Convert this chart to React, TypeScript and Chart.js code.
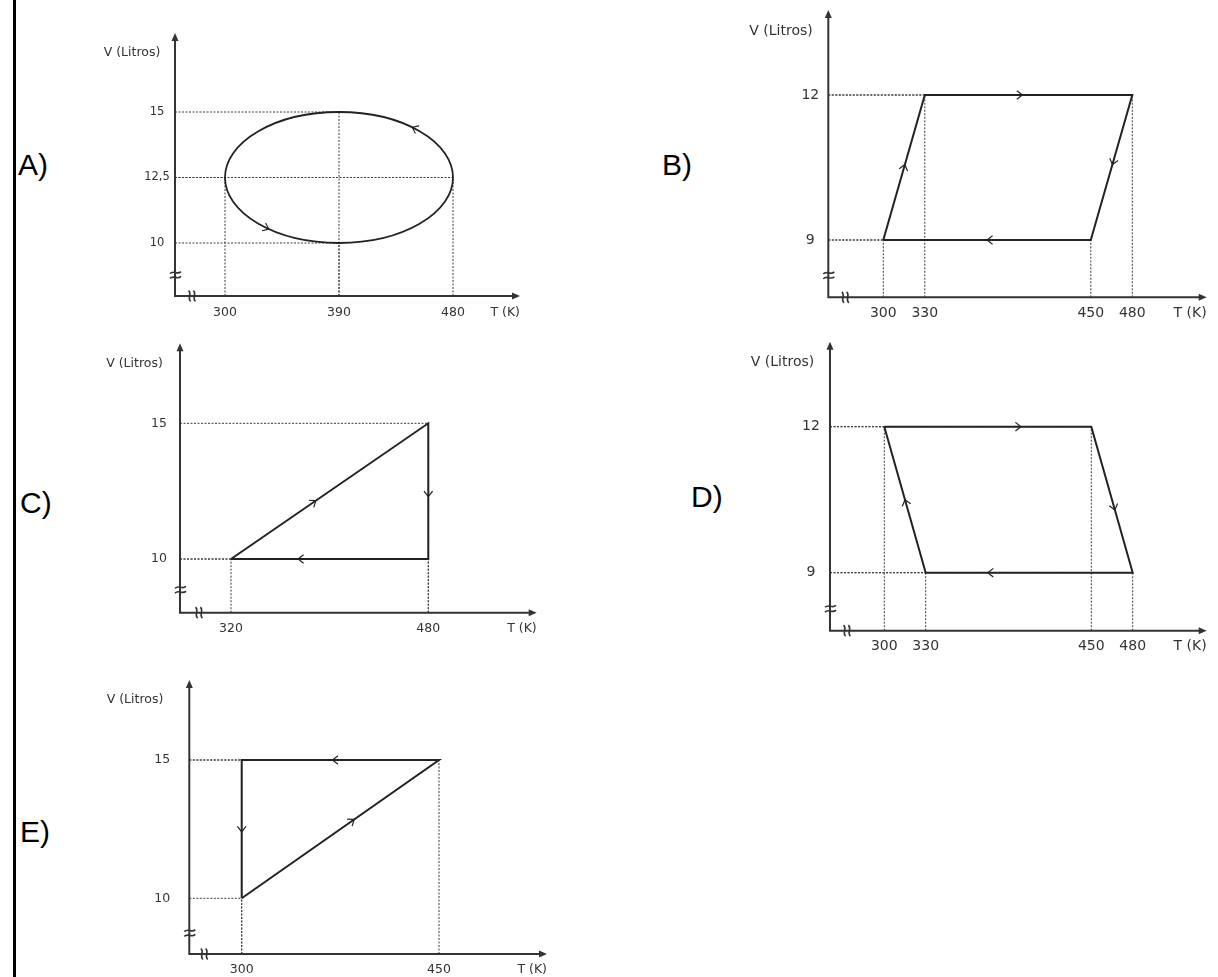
import React, { useEffect, useRef } from 'react';
import { Chart, registerables } from 'chart.js';

Chart.register(...registerables);

// ---------------- DATA ----------------
const PANEL_LETTERS = ['A)', 'B)', 'C)', 'D)', 'E)'];
const X_TITLE = 'T (K)';
const Y_TITLE = 'V (Litros)';

// A) elliptical cycle
const A_T_TICKS = [300, 390, 480];
const A_T_LABELS = ['300', '390', '480'];
const A_V_TICKS = [10, 12.5, 15];
const A_V_LABELS = ['10', '12,5', '15'];
const A_ELLIPSE_T = [300, 390, 480]; // min, centre, max
const A_ELLIPSE_V = [10, 12.5, 15]; // min, centre, max
const A_GUIDE_T = [300, 390, 480, 390];
const A_GUIDE_V = [12.5, 15, 12.5, 10];
const A_ARROW_ANGLES = [50, 232]; // degrees along the ellipse

// B)
const B_CYCLE_T = [300, 330, 480, 450, 300];
const B_CYCLE_V = [9, 12, 12, 9, 9];
const B_T_TICKS = [300, 330, 450, 480];
const B_T_LABELS = ['300', '330', '450', '480'];
const B_V_TICKS = [9, 12];
const B_V_LABELS = ['9', '12'];
const B_ARROWS = [0.52, 0.47, 0.48, 0.5];

// C)
const C_CYCLE_T = [320, 480, 480, 320];
const C_CYCLE_V = [10, 15, 10, 10];
const C_T_TICKS = [320, 480];
const C_T_LABELS = ['320', '480'];
const C_V_TICKS = [10, 15];
const C_V_LABELS = ['10', '15'];
const C_ARROWS = [0.43, 0.54, 0.66];

// D)
const D_CYCLE_T = [300, 450, 480, 330, 300];
const D_CYCLE_V = [12, 12, 9, 9, 12];
const D_T_TICKS = [300, 330, 450, 480];
const D_T_LABELS = ['300', '330', '450', '480'];
const D_V_TICKS = [9, 12];
const D_V_LABELS = ['9', '12'];
const D_ARROWS = [0.66, 0.57, 0.7, 0.5];

// E)
const E_CYCLE_T = [300, 450, 300, 300];
const E_CYCLE_V = [10, 15, 15, 10];
const E_T_TICKS = [300, 450];
const E_T_LABELS = ['300', '450'];
const E_V_TICKS = [10, 15];
const E_V_LABELS = ['10', '15'];
const E_ARROWS = [0.57, 0.54, 0.52];

// ---------------- LAYOUT ----------------
type Spec = {
  box: number[];
  axisX: number; axisY: number; xTip: number; yTip: number;
  xRef: number[]; yRef: number[];
  tTicks: number[]; tLabels: string[]; vTicks: number[]; vLabels: string[];
  cycleT?: number[]; cycleV?: number[]; arrows?: number[];
  ellipseT?: number[]; ellipseV?: number[]; ellipseArrows?: number[];
  guideT: number[]; guideV: number[];
  tickFont: number; vTickFont: number; titleFont: number;
  vLabelDx: number; xLabelDy: number;
  title: number[];
  breakDy: number; breakDx: number;
};

const uniq = (T: number[], V: number[]) => {
  const t: number[] = [], v: number[] = [];
  T.forEach((x, i) => {
    if (!t.some((tt, j) => tt === x && v[j] === V[i])) { t.push(x); v.push(V[i]); }
  });
  return [t, v];
};

const [B_GT, B_GV] = uniq(B_CYCLE_T, B_CYCLE_V);
const [C_GT, C_GV] = uniq(C_CYCLE_T, C_CYCLE_V);
const [D_GT, D_GV] = uniq(D_CYCLE_T, D_CYCLE_V);
const [E_GT, E_GV] = uniq(E_CYCLE_T, E_CYCLE_V);

const SPECS: Spec[] = [
  {
    box: [90, 0, 450, 330], axisX: 175, axisY: 296, xTip: 520, yTip: 33,
    xRef: [300, 225, 480, 453], yRef: [15, 112, 10, 243],
    tTicks: A_T_TICKS, tLabels: A_T_LABELS, vTicks: A_V_TICKS, vLabels: A_V_LABELS,
    ellipseT: A_ELLIPSE_T, ellipseV: A_ELLIPSE_V, ellipseArrows: A_ARROW_ANGLES,
    guideT: A_GUIDE_T, guideV: A_GUIDE_V,
    tickFont: 12.5, vTickFont: 11.5, titleFont: 12.5, vLabelDx: 18, xLabelDy: 17,
    title: [132, 53], breakDy: 21, breakDx: 17,
  },
  {
    box: [740, 0, 478, 330], axisX: 828.3, axisY: 297.3, xTip: 1206.7, yTip: 10,
    xRef: [300, 883.3, 480, 1132.3], yRef: [12, 95, 9, 240],
    tTicks: B_T_TICKS, tLabels: B_T_LABELS, vTicks: B_V_TICKS, vLabels: B_V_LABELS,
    cycleT: B_CYCLE_T, cycleV: B_CYCLE_V, arrows: B_ARROWS,
    guideT: B_GT, guideV: B_GV,
    tickFont: 14, vTickFont: 14, titleFont: 14, vLabelDx: 18, xLabelDy: 16,
    title: [781, 31], breakDy: 22, breakDx: 17,
  },
  {
    box: [90, 330, 460, 330], axisX: 180, axisY: 612.7, xTip: 536.7, yTip: 343.3,
    xRef: [320, 231, 480, 428.3], yRef: [15, 423.3, 10, 559],
    tTicks: C_T_TICKS, tLabels: C_T_LABELS, vTicks: C_V_TICKS, vLabels: C_V_LABELS,
    cycleT: C_CYCLE_T, cycleV: C_CYCLE_V, arrows: C_ARROWS,
    guideT: C_GT, guideV: C_GV,
    tickFont: 12.5, vTickFont: 12.5, titleFont: 12.5, vLabelDx: 21, xLabelDy: 16,
    title: [134.5, 363.3], breakDy: 23, breakDx: 19,
  },
  {
    box: [740, 330, 478, 330], axisX: 830, axisY: 630.7, xTip: 1206.7, yTip: 341.7,
    xRef: [300, 884.3, 480, 1132.7], yRef: [12, 426.7, 9, 572.7],
    tTicks: D_T_TICKS, tLabels: D_T_LABELS, vTicks: D_V_TICKS, vLabels: D_V_LABELS,
    cycleT: D_CYCLE_T, cycleV: D_CYCLE_V, arrows: D_ARROWS,
    guideT: D_GT, guideV: D_GV,
    tickFont: 14, vTickFont: 14, titleFont: 14, vLabelDx: 19, xLabelDy: 16,
    title: [782.5, 362.3], breakDy: 22, breakDx: 17,
  },
  {
    box: [90, 660, 470, 317], axisX: 189.3, axisY: 954, xTip: 547, yTip: 680,
    xRef: [300, 241.7, 450, 439], yRef: [15, 760, 10, 898.3],
    tTicks: E_T_TICKS, tLabels: E_T_LABELS, vTicks: E_V_TICKS, vLabels: E_V_LABELS,
    cycleT: E_CYCLE_T, cycleV: E_CYCLE_V, arrows: E_ARROWS,
    guideT: E_GT, guideV: E_GV,
    tickFont: 12.5, vTickFont: 12.5, titleFont: 12.5, vLabelDx: 27, xLabelDy: 16,
    title: [135, 700], breakDy: 21, breakDx: 15,
  },
];

const LETTER_POS = [[18, 165], [662, 165], [20, 503], [691, 497], [20, 832]];

const FONT = '"DejaVu Sans", Verdana, sans-serif';
const AXIS_COLOR = '#333';
const LINE_COLOR = '#222';
const TEXT_COLOR = '#333';

function chevron(ctx: CanvasRenderingContext2D, x: number, y: number, dx: number, dy: number) {
  const len = Math.hypot(dx, dy) || 1;
  const ux = dx / len, uy = dy / len;
  const L = 7, ang = (38 * Math.PI) / 180;
  ctx.beginPath();
  for (const s of [1, -1]) {
    const c = Math.cos(s * ang), sn = Math.sin(s * ang);
    const rx = ux * c - uy * sn, ry = ux * sn + uy * c;
    ctx.moveTo(x - rx * L, y - ry * L);
    ctx.lineTo(x, y);
  }
  ctx.stroke();
}

function breakMark(ctx: CanvasRenderingContext2D, cx: number, cy: number, vertical: boolean) {
  ctx.save();
  ctx.translate(cx, cy);
  if (vertical) ctx.rotate(Math.PI / 2);
  ctx.lineWidth = 1.6;
  ctx.strokeStyle = AXIS_COLOR;
  for (const off of [-2.4, 2.4]) {
    ctx.beginPath();
    ctx.moveTo(-5.5, off + 1);
    ctx.bezierCurveTo(-2, off - 2.8, 2, off + 2.8, 5.5, off - 1);
    ctx.stroke();
  }
  ctx.restore();
}

function makeDecor(s: Spec) {
  return {
    id: 'vtDecor',
    afterDatasetsDraw(chart: any) {
      const ctx: CanvasRenderingContext2D = chart.ctx;
      const xs = chart.scales.x, ys = chart.scales.y;
      const ca = chart.chartArea;
      ctx.save();

      // ellipse (panel A)
      if (s.ellipseT && s.ellipseV) {
        const cx = xs.getPixelForValue(s.ellipseT[1]);
        const cy = ys.getPixelForValue(s.ellipseV[1]);
        const rx = (xs.getPixelForValue(s.ellipseT[2]) - xs.getPixelForValue(s.ellipseT[0])) / 2;
        const ry = (ys.getPixelForValue(s.ellipseV[0]) - ys.getPixelForValue(s.ellipseV[2])) / 2;
        ctx.strokeStyle = LINE_COLOR;
        ctx.lineWidth = 1.8;
        ctx.beginPath();
        ctx.ellipse(cx, cy, rx, ry, 0, 0, Math.PI * 2);
        ctx.stroke();
        ctx.lineWidth = 1.1;
        (s.ellipseArrows || []).forEach((deg) => {
          const th = (deg * Math.PI) / 180;
          const px = cx + rx * Math.cos(th), py = cy - ry * Math.sin(th);
          chevron(ctx, px, py, -rx * Math.sin(th), -ry * Math.cos(th));
        });
      }

      // direction arrows on the cycle
      if (s.cycleT && s.cycleV && s.arrows) {
        ctx.strokeStyle = LINE_COLOR;
        ctx.lineWidth = 1.2;
        s.arrows.forEach((f, i) => {
          const x0 = xs.getPixelForValue(s.cycleT![i]), y0 = ys.getPixelForValue(s.cycleV![i]);
          const x1 = xs.getPixelForValue(s.cycleT![i + 1]), y1 = ys.getPixelForValue(s.cycleV![i + 1]);
          chevron(ctx, x0 + (x1 - x0) * f, y0 + (y1 - y0) * f, x1 - x0, y1 - y0);
        });
      }

      // axes
      const ax = ca.left, ay = ca.bottom;
      ctx.strokeStyle = AXIS_COLOR;
      ctx.fillStyle = AXIS_COLOR;
      ctx.lineWidth = 2;
      ctx.beginPath();
      ctx.moveTo(ax, ay + 1);
      ctx.lineTo(ax, ca.top + 6);
      ctx.moveTo(ax - 1, ay);
      ctx.lineTo(ca.right - 6, ay);
      ctx.stroke();
      ctx.beginPath();
      ctx.moveTo(ax, ca.top);
      ctx.lineTo(ax - 3.5, ca.top + 8);
      ctx.lineTo(ax + 3.5, ca.top + 8);
      ctx.closePath();
      ctx.fill();
      ctx.beginPath();
      ctx.moveTo(ca.right, ay);
      ctx.lineTo(ca.right - 8, ay - 3.5);
      ctx.lineTo(ca.right - 8, ay + 3.5);
      ctx.closePath();
      ctx.fill();

      // axis breaks
      breakMark(ctx, ax + 0.5, ay - s.breakDy, false);
      breakMark(ctx, ax + s.breakDx, ay, true);

      // tick labels
      ctx.fillStyle = TEXT_COLOR;
      ctx.textAlign = 'center';
      ctx.textBaseline = 'middle';
      ctx.font = `${s.tickFont}px ${FONT}`;
      s.tTicks.forEach((t, i) => {
        ctx.fillText(s.tLabels[i], xs.getPixelForValue(t), ay + s.xLabelDy);
      });
      ctx.font = `${s.vTickFont}px ${FONT}`;
      s.vTicks.forEach((v, i) => {
        ctx.fillText(s.vLabels[i], ax - s.vLabelDx, ys.getPixelForValue(v));
      });

      // titles
      ctx.font = `${s.titleFont}px ${FONT}`;
      ctx.textAlign = 'right';
      ctx.fillText(X_TITLE, ca.right, ay + s.xLabelDy);
      ctx.textAlign = 'center';
      ctx.fillText(Y_TITLE, s.title[0] - s.box[0], s.title[1] - s.box[1]);

      ctx.restore();
    },
  };
}

function Panel({ s }: { s: Spec }) {
  const ref = useRef<HTMLCanvasElement>(null);
  useEffect(() => {
    const [bl, bt, bw, bh] = s.box;
    const sx = (s.xRef[3] - s.xRef[1]) / (s.xRef[2] - s.xRef[0]);
    const xmin = s.xRef[0] + (s.axisX - s.xRef[1]) / sx;
    const xmax = s.xRef[0] + (s.xTip - s.xRef[1]) / sx;
    const sy = (s.yRef[3] - s.yRef[1]) / (s.yRef[2] - s.yRef[0]);
    const ymin = s.yRef[0] + (s.axisY - s.yRef[1]) / sy;
    const ymax = s.yRef[0] + (s.yTip - s.yRef[1]) / sy;

    const guideStyle = {
      borderColor: '#3a3a3a',
      borderWidth: 1,
      borderDash: [2, 1.5],
      pointRadius: 0,
      showLine: true,
      clip: false as any,
      order: 2,
    };
    const datasets: any[] = [];
    if (s.cycleT && s.cycleV) {
      datasets.push({
        data: s.cycleT.map((t, i) => ({ x: t, y: s.cycleV![i] })),
        showLine: true,
        borderColor: LINE_COLOR,
        borderWidth: 2,
        pointRadius: 0,
        tension: 0,
        clip: false,
        order: 0,
      });
    }
    s.guideT.forEach((t, i) => {
      const v = s.guideV[i];
      datasets.push({ ...guideStyle, data: [{ x: xmin, y: v }, { x: t, y: v }] });
      datasets.push({ ...guideStyle, data: [{ x: t, y: ymin }, { x: t, y: v }] });
    });

    const chart = new Chart(ref.current!, {
      type: 'scatter',
      data: { datasets },
      options: {
        animation: false,
        responsive: false,
        devicePixelRatio: 1,
        events: [],
        layout: {
          padding: {
            left: s.axisX - bl,
            top: s.yTip - bt,
            right: bl + bw - s.xTip,
            bottom: bt + bh - s.axisY,
          },
        },
        scales: {
          x: { type: 'linear', display: false, min: xmin, max: xmax },
          y: { type: 'linear', display: false, min: ymin, max: ymax },
        },
        plugins: { legend: { display: false }, tooltip: { enabled: false } },
      } as any,
      plugins: [makeDecor(s)],
    });
    return () => chart.destroy();
  }, [s]);
  const [bl, bt, bw, bh] = s.box;
  return (
    <canvas
      ref={ref}
      width={bw}
      height={bh}
      style={{ position: 'absolute', left: bl, top: bt, width: bw, height: bh }}
    />
  );
}

export default function App() {
  return (
    <div
      style={{
        position: 'absolute',
        left: 0,
        top: 0,
        width: 1218,
        height: 977,
        background: '#fff',
        overflow: 'hidden',
      }}
    >
      <div style={{ position: 'absolute', left: 13, top: 0, width: 3, height: 977, background: '#000' }} />
      {PANEL_LETTERS.map((l, i) => (
        <div
          key={l}
          style={{
            position: 'absolute',
            left: LETTER_POS[i][0],
            top: LETTER_POS[i][1] - 15,
            font: '30px "Liberation Sans", Arial, sans-serif',
            lineHeight: '30px',
            color: '#000',
            whiteSpace: 'nowrap',
          }}
        >
          {l}
        </div>
      ))}
      {SPECS.map((s, i) => (
        <Panel key={i} s={s} />
      ))}
    </div>
  );
}
